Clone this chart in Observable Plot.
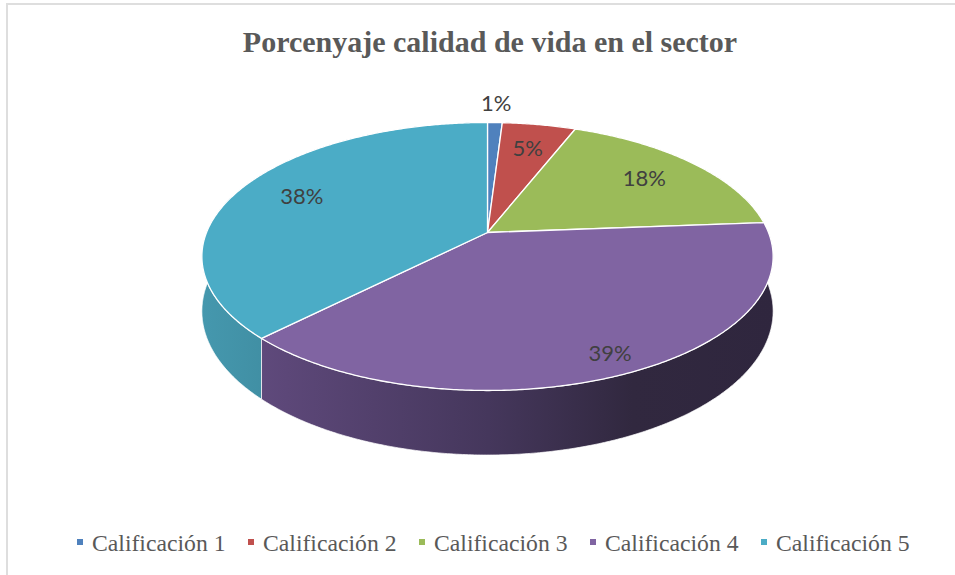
<!DOCTYPE html>
<html><head><meta charset="utf-8">
<script src="https://cdn.jsdelivr.net/npm/d3@7"></script>
<script src="https://cdn.jsdelivr.net/npm/@observablehq/plot@0.6"></script>
<style>
body{margin:0;background:#fff;}
#wrap{position:relative;width:955px;height:575px;overflow:hidden;background:#fff;}
#frame{position:absolute;left:6px;top:3px;width:1000px;height:1000px;border-left:2px solid #dedede;border-top:2px solid #dedede;}
#title{position:absolute;left:0;top:25px;width:980px;text-align:center;font:bold 30px "Liberation Serif","Times New Roman",serif;line-height:33px;color:#595959;white-space:nowrap;}
#chart{position:absolute;left:0;top:0;}
.lg{position:absolute;top:530px;font:23.7px "Liberation Serif","Times New Roman",serif;line-height:27px;color:#595959;white-space:nowrap;}
.lg i{position:absolute;left:0;top:9px;width:6px;height:6px;}
.lg span{position:absolute;left:15px;top:0;}
</style></head>
<body><div id="wrap"><div id="frame"></div><div id="chart"></div><div id="title">Porcenyaje calidad de vida en el sector</div></div>
<script>
const categories = ["Calificación 1","Calificación 2","Calificación 3","Calificación 4","Calificación 5"];
const values = [1, 5, 18, 39, 38];
const labels = ["1%","5%","18%","39%","38%"];
const topColors = ["#4F81BD","#C0504D","#9BBB59","#8064A2","#4BACC6"];
const wallStops = [
  [["0","#4a76ad"],["1","#1f3552"]],
  [["0","#b04a47"],["1","#552222"]],
  [["0","#8eab52"],["1","#445526"]],
  [["0","#664f84"],["0.15","#5c4778"],["0.5","#45375c"],["0.75","#31283f"],["1","#2f263e"]],
  [["0","#4598ae"],["1","#1d4752"]]
];

const W = 955, H = 575;
// perspective-projected disk layout
const CX = 487, CY = 232, A = 281, B = 129.7, K = 0.179, D = 53;
const X0 = 200, X1 = 776;
function proj(t, f = 1) {
  const u = f * Math.sin(t), v = f * Math.cos(t), w = 1 + K * v;
  return [CX + A * u / w, CY - B * v / w, w];
}
const total = d3.sum(values);
let acc = 0;
const slices = values.map((v, i) => {
  const a0 = acc / total * 2 * Math.PI; acc += v;
  const a1 = acc / total * 2 * Math.PI;
  return {i, a0, a1, mid: (a0 + a1) / 2};
});
function arc(a0, a1) {
  const n = Math.max(2, Math.ceil((a1 - a0) / (Math.PI / 360)));
  return d3.range(n + 1).map(k => a0 + (a1 - a0) * k / n);
}
function topPts(s) {
  const pts = [{x: CX, y: CY}];
  for (const t of arc(s.a0, s.a1)) { const p = proj(t); pts.push({x: p[0], y: p[1]}); }
  pts.push({x: CX, y: CY});
  return pts;
}
function wallPts(s) {
  const ts = arc(s.a0, s.a1);
  const pts = ts.map(t => { const p = proj(t); return {x: p[0], y: p[1]}; });
  for (const t of ts.slice().reverse()) { const p = proj(t); pts.push({x: p[0], y: p[1] + D / p[2]}); }
  pts.push(pts[0]);
  return pts;
}
// back-to-front ordering of the walls
const wallOrder = slices.slice().sort((a, b) => {
  const na = d3.min(arc(a.a0, a.a1), t => Math.cos(t));
  const nb = d3.min(arc(b.a0, b.a1), t => Math.cos(t));
  return nb - na;
});
const labelData = slices.map(s => {
  const pct = values[s.i] / total;
  const c = Math.cos(s.mid);
  const f = pct < 0.03 ? 1.2 : 0.75 + 0.15 * Math.max(0, -c);
  const p = proj(s.mid, f);
  return {x: p[0], y: p[1], text: labels[s.i]};
});

const defsMark = () => {
  const defs = d3.create("svg:defs");
  wallStops.forEach((stops, i) => {
    const g = defs.append("linearGradient").attr("id", "wall" + i)
      .attr("gradientUnits", "userSpaceOnUse").attr("x1", X0).attr("x2", X1).attr("y1", 0).attr("y2", 0);
    stops.forEach(([o, c]) => g.append("stop").attr("offset", o).attr("stop-color", c));
  });
  return defs.node();
};

const marks = [defsMark];
for (const s of wallOrder) {
  marks.push(Plot.line(wallPts(s), {x: "x", y: "y", fill: `url(#wall${s.i})`, stroke: "#ffffff", strokeOpacity: 0.7, strokeWidth: 1, strokeLinejoin: "round"}));
}
for (const s of slices) {
  marks.push(Plot.line(topPts(s), {x: "x", y: "y", fill: topColors[s.i], stroke: "#ffffff", strokeWidth: 1.3, strokeLinejoin: "round"}));
}
marks.push(Plot.text(labelData, {x: "x", y: "y", text: "text", fill: "#404040", fontSize: 22, fontFamily: "Lato, 'Noto Sans', sans-serif", textAnchor: "middle", lineAnchor: "middle"}));

const chart = Plot.plot({
  width: W, height: H, margin: 0,
  x: {domain: [0, W], range: [0, W], axis: null},
  y: {domain: [0, H], range: [0, H], axis: null},
  style: {background: "transparent", overflow: "visible"},
  marks
});
document.getElementById("chart").appendChild(chart);

const wrap = document.getElementById("wrap");
categories.forEach((c, i) => {
  const d = document.createElement("div");
  d.className = "lg";
  d.style.left = (77 + i * 171) + "px";
  d.innerHTML = `<i style="background:${topColors[i]}"></i><span>${c}</span>`;
  wrap.appendChild(d);
});
</script></body></html>
